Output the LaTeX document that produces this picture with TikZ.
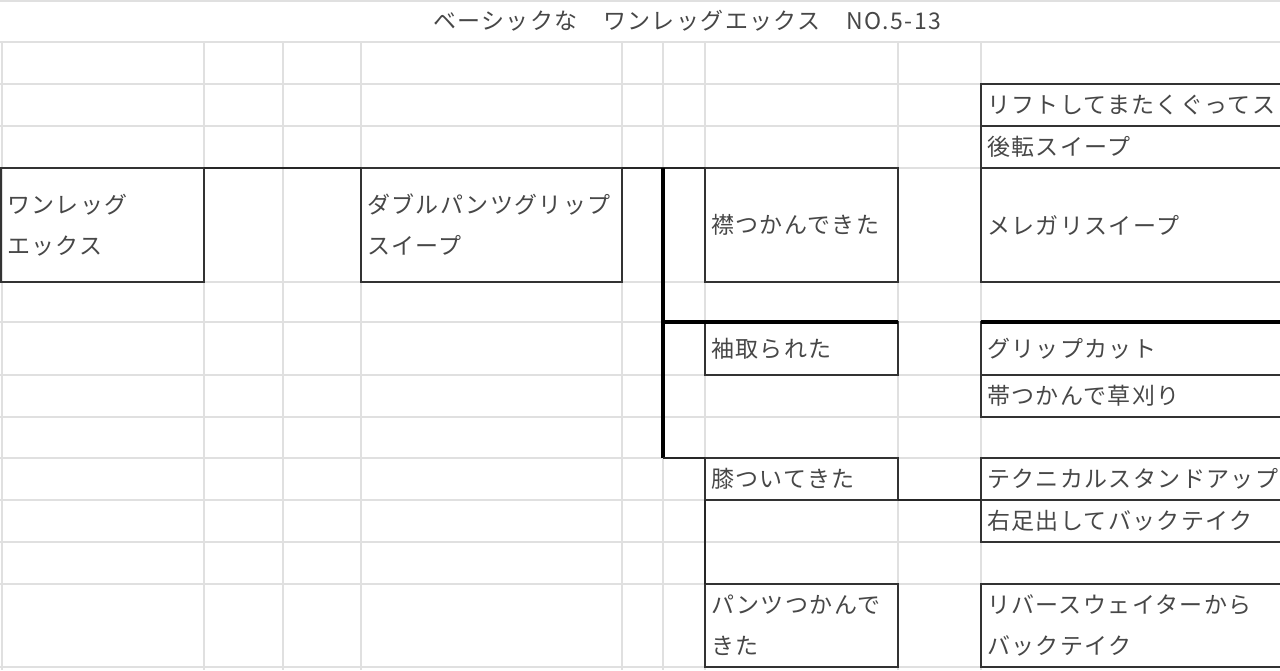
\documentclass[tikz,border=0pt]{standalone}
\usepackage{fontspec}
\setmainfont{Noto Sans CJK JP}[LetterSpace=6]
\begin{document}
\begin{tikzpicture}[x=1pt,y=-1pt,
        cell/.style={draw=black!80,line width=1.8pt,anchor=north west,inner xsep=6pt,inner ysep=0pt,outer sep=0pt,
            align=left,text=black!72,font=\fontsize{23}{41}\selectfont},
        gridline/.style={draw=black!12,line width=1.2pt},
        link/.style={draw=black!85,line width=1.8pt},
        trunk/.style={draw=black,line width=3.2pt}]
        \useasboundingbox (0,0) rectangle (1280,670);
        \clip (0,0) rectangle (1280,670);
        % sheet grid
        \foreach \y in {1,42,84,126,168,282,322,375,417,458,500,542,584,667}
            \draw[gridline] (0,\y) -- (1280,\y);
        \foreach \x in {2,204,283,361,622,663,705,898,981}
            \draw[gridline] (\x,42) -- (\x,670);
        \node[text=black!72,font=\fontsize{23}{26}\selectfont] (title) at (687,21) {ベーシックな　ワンレッグエックス　NO.5-13};
        % boxes
        \node[cell,text width=191pt,minimum height=114pt] (root) at (1,168) {ワンレッグ\\エックス};
        \node[cell,text width=249pt,minimum height=114pt] (sweep) at (361,168) {ダブルパンツグリップ\\スイープ};
        \node[cell,text width=181pt,minimum height=114pt] (eri) at (705,168) {襟つかんできた};
        \node[cell,text width=181pt,minimum height=53pt] (sode) at (705,322) {袖取られた};
        \node[cell,text width=181pt,minimum height=42pt] (hiza) at (705,458) {膝ついてきた};
        \node[cell,text width=181pt,minimum height=83pt] (pants) at (705,584) {パンツつかんで\\きた};
        \node[cell,text width=307pt,minimum height=42pt] (lift) at (981,84) {リフトしてまたくぐってス};
        \node[cell,text width=307pt,minimum height=42pt] (koten) at (981,126) {後転スイープ};
        \node[cell,text width=307pt,minimum height=114pt] (mere) at (981,168) {メレガリスイープ};
        \node[cell,text width=307pt,minimum height=53pt] (grip) at (981,322) {グリップカット};
        \node[cell,text width=307pt,minimum height=42pt] (obi) at (981,375) {帯つかんで草刈り};
        \node[cell,text width=307pt,minimum height=42pt] (tech) at (981,458) {テクニカルスタンドアップ};
        \node[cell,text width=307pt,minimum height=42pt] (migi) at (981,500) {右足出してバックテイク};
        \node[cell,text width=307pt,minimum height=83pt] (reverse) at (981,584) {リバースウェイターから\\バックテイク};
        % connectors
        \coordinate (fork) at (663,168);
        \coordinate (sodejoint) at (663,322);
        \coordinate (forkend) at (663,458);
        \draw[link] (root.north east) -- (sweep.north west);
        \draw[link] (sweep.north east) -- (eri.north west);
        \draw[trunk] (fork) -- (forkend);
        \draw[trunk] (sodejoint) -- (sode.north east);
        \draw[trunk] (grip.north west) -- (grip.north east);
        \draw[link] (forkend) -- (hiza.north west);
        \draw[link] (hiza.south west) -- (pants.north west);
        \draw[link] (hiza.south east) -- (migi.north west);
    \end{tikzpicture}
\end{document}
